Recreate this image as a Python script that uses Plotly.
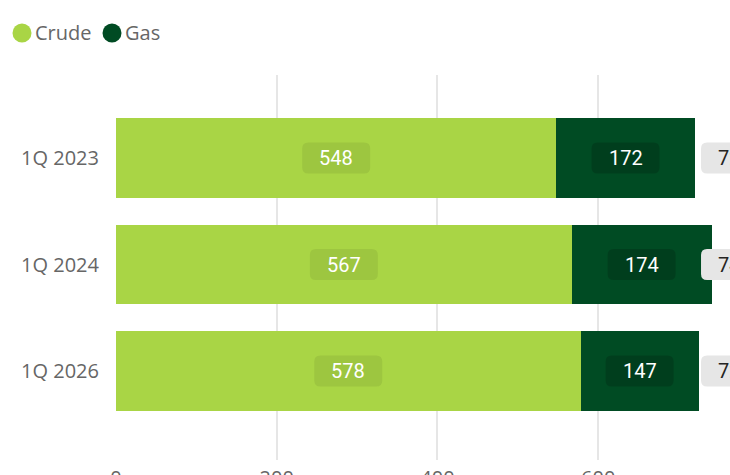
import plotly.graph_objects as go

categories = ["1Q 2023", "1Q 2024", "1Q 2026"]
crude = [548, 567, 578]
gas = [172, 174, 147]
x_ticks = [0, 200, 400, 600]
series_names = ["Crude", "Gas"]

totals = [c + g for c, g in zip(crude, gas)]

CRUDE_COLOR = "#a9d545"
GAS_COLOR = "#004b23"
GREY = "#666666"
NUM_FONT = "Roboto"
TXT_FONT = "Open Sans"

W, H = 730, 475
ML, MR, MT, MB = 116, 0, 75, 15
PW, PH = W - ML - MR, H - MT - MB


def px_to_paper_x(px):
    return (px - ML) / PW


def px_to_paper_y(py):
    return 1 + (MT - py) / PH


def rounded_rect(x0, x1, y0, y1, r):
    return (f"M {x0 + r},{y0} L {x1 - r},{y0} Q {x1},{y0} {x1},{y0 + r} "
            f"L {x1},{y1 - r} Q {x1},{y1} {x1 - r},{y1} L {x0 + r},{y1} "
            f"Q {x0},{y1} {x0},{y1 - r} L {x0},{y0 + r} Q {x0},{y0} {x0 + r},{y0} Z")


fig = go.Figure()
fig.add_trace(go.Bar(y=categories, x=crude, orientation="h", marker_color=CRUDE_COLOR,
                     marker_line_width=0, width=0.75, name=series_names[0], showlegend=False))
fig.add_trace(go.Bar(y=categories, x=gas, orientation="h", marker_color=GAS_COLOR,
                     marker_line_width=0, width=0.75, name=series_names[1], showlegend=False))

annotations = []
shapes = []
BOX_W, BOX_H, RAD = 68, 31, 6
for i, (cat, c, g, t) in enumerate(zip(categories, crude, gas, totals)):
    # (anchor x, box x-offset start, fill, text colour, text)
    items = [
        (c / 2, -BOX_W / 2, "rgba(0,0,0,0.07)", "white", str(c)),
        (c + g / 2, -BOX_W / 2, "rgba(0,0,0,0.16)", "white", str(g)),
        (max(totals), -10.5, "#e6e6e6", "#252423", str(t)),
    ]
    for ax, dx, fill, tcol, txt in items:
        shapes.append(dict(type="path", xref="x", yref="y",
                           xsizemode="pixel", ysizemode="pixel", xanchor=ax, yanchor=i,
                           path=rounded_rect(dx, dx + BOX_W, -BOX_H / 2, BOX_H / 2, RAD),
                           fillcolor=fill, line_width=0, layer="above"))
        annotations.append(dict(x=ax, y=cat, text=txt, showarrow=False,
                                xshift=dx + BOX_W / 2,
                                font=dict(family=NUM_FONT, size=20, color=tcol),
                                xanchor="center", yanchor="middle"))

# legend: circle swatches + labels above the plot
legend_items = [(series_names[0], CRUDE_COLOR, 22, 35), (series_names[1], GAS_COLOR, 112, 125)]
for name, col, cx, tx in legend_items:
    r = 9.5
    shapes.append(dict(type="circle", xref="paper", yref="paper",
                       x0=px_to_paper_x(cx - r), x1=px_to_paper_x(cx + r),
                       y0=px_to_paper_y(33 + r), y1=px_to_paper_y(33 - r),
                       fillcolor=col, line_width=0, layer="above"))
    annotations.append(dict(xref="paper", yref="paper", x=px_to_paper_x(tx - 2),
                            y=px_to_paper_y(33), text=name, showarrow=False,
                            xanchor="left", yanchor="middle",
                            font=dict(family=TXT_FONT, size=20, color=GREY)))

fig.update_layout(
    width=W, height=H,
    margin=dict(l=ML, r=MR, t=MT, b=MB, autoexpand=False),
    paper_bgcolor="white", plot_bgcolor="white",
    barmode="stack", bargap=0.25,
    font=dict(family=TXT_FONT, size=20, color=GREY),
    annotations=annotations,
    shapes=shapes,
    showlegend=False,
    hovermode=False,
)
fig.update_xaxes(range=[0, 764], tickvals=x_ticks, showgrid=True, gridcolor="#e6e6e6",
                 gridwidth=1.5, zeroline=False, showline=False, automargin=False,
                 tickfont=dict(family=TXT_FONT, size=20, color=GREY), ticklabelstandoff=4)
fig.update_yaxes(categoryorder="array", categoryarray=categories, range=[2.836, -0.78],
                 showgrid=False, zeroline=False, showline=False, automargin=False,
                 tickfont=dict(family=TXT_FONT, size=20, color=GREY), ticklabelstandoff=16)

fig.write_html("out.html", config={"displayModeBar": False}, post_script=(
    "document.body.style.margin='0';"
    "document.documentElement.style.overflow='hidden';"
    "document.body.style.overflow='hidden';"))
